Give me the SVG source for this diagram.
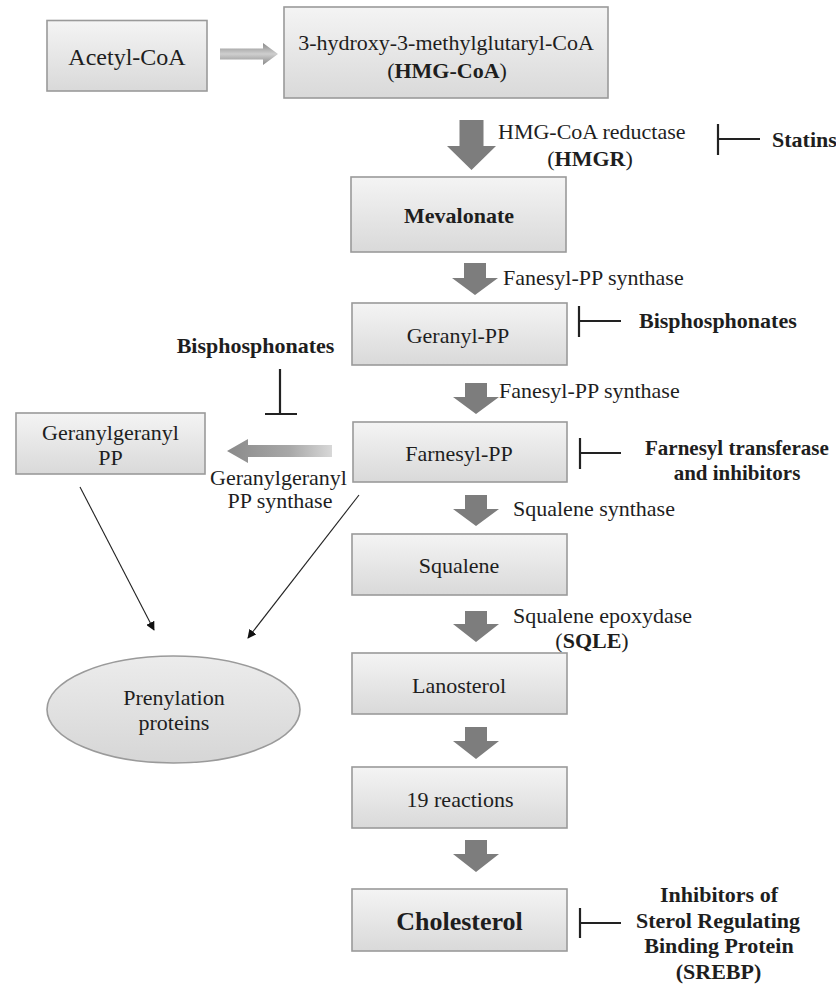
<svg xmlns="http://www.w3.org/2000/svg" width="836" height="986" viewBox="0 0 836 986">
<style>
text{font-family:"Liberation Serif","Times New Roman",serif;fill:#1e1e1e;font-size:22px}
.c{text-anchor:middle}
.b{font-weight:bold}
.box{fill:url(#boxg);stroke:#9a9a9a;stroke-width:1.6}
.blk{fill:#7d7d7d}
.thin{stroke:#222;stroke-width:1.1;fill:none;marker-end:url(#ah)}
.inh{stroke:#222;stroke-width:2.2;fill:none}
</style>
<defs>
<linearGradient id="boxg" x1="0" y1="0" x2="0" y2="1">
<stop offset="0" stop-color="#f4f4f4"/>
<stop offset="1" stop-color="#d9d9d9"/>
</linearGradient>
<linearGradient id="ellg" x1="0" y1="0" x2="0" y2="1">
<stop offset="0" stop-color="#ececec"/>
<stop offset="1" stop-color="#d6d6d6"/>
</linearGradient>
<linearGradient id="hg1" x1="0" y1="0" x2="0" y2="1">
<stop offset="0" stop-color="#8a8a8a"/>
<stop offset="0.5" stop-color="#cfcfcf"/>
<stop offset="1" stop-color="#8a8a8a"/>
</linearGradient>
<linearGradient id="hg2" x1="0" y1="0" x2="1" y2="0">
<stop offset="0" stop-color="#8a8a8a"/>
<stop offset="0.6" stop-color="#a8a8a8"/>
<stop offset="1" stop-color="#d8d8d8"/>
</linearGradient>
<marker id="ah" viewBox="0 0 10 10" refX="9" refY="5" markerWidth="9" markerHeight="9" markerUnits="userSpaceOnUse" orient="auto">
<path d="M0,0 L10,5 L0,10 z" fill="#111"/>
</marker>
</defs>

<g id="connectors">
<polygon fill="url(#hg1)" points="220,48.5 263,48.5 263,43 278,54 263,65 263,59.5 220,59.5"/>
<polygon class="blk" points="459.5,120 483.5,120 483.5,146 496,146 471.5,170 447,146 459.5,146"/>
<polygon class="blk" points="464,263 486,263 486,278 498,278 475,295 452,278 464,278"/>
<polygon class="blk" points="465,383 487,383 487,397 499,397 476,414 453,397 465,397"/>
<polygon class="blk" points="465,495 487,495 487,509 499,509 476,526 453,509 465,509"/>
<polygon class="blk" points="465,611 487,611 487,624 499,624 476,642 453,624 465,624"/>
<polygon class="blk" points="465,727 487,727 487,741 499,741 476,759 453,741 465,741"/>
<polygon class="blk" points="465,840 487,840 487,854 499,854 476,872 453,854 465,854"/>
<polygon fill="url(#hg2)" points="227,451 248,439 248,445 332,445 332,457 248,457 248,463"/>
<line class="thin" x1="80" y1="487" x2="154" y2="630"/>
<line class="thin" x1="359" y1="495" x2="248" y2="638"/>
<path class="inh" d="M718,124 V155 M718,139 H760"/>
<path class="inh" d="M579,306 V337 M579,321 H621"/>
<path class="inh" d="M280,369 V414 M265,414 H297"/>
<path class="inh" d="M580,438 V469 M580,453 H621"/>
<path class="inh" d="M580,908 V938 M580,923 H621"/>
</g>

<g id="acetyl-coa">
<rect class="box" x="47" y="20.5" width="160" height="70.5"/>
<text class="c" x="127" y="65" style="font-size:24px">Acetyl-CoA</text>
</g>
<g id="hmg-coa">
<rect class="box" x="284" y="7" width="324" height="91"/>
<text class="c" x="446" y="50">3-hydroxy-3-methylglutaryl-CoA</text>
<text class="c" x="447" y="78">(<tspan class="b">HMG-CoA</tspan>)</text>
</g>
<g id="hmgr-label">
<text x="498" y="139">HMG-CoA reductase</text>
<text class="c" x="590" y="166">(<tspan class="b">HMGR</tspan>)</text>
</g>
<g id="statins">
<text class="b" x="772" y="147">Statins</text>
</g>
<g id="mevalonate">
<rect class="box" x="351" y="177" width="215" height="75"/>
<text class="c b" x="459" y="223">Mevalonate</text>
</g>
<g id="fpps-label-1">
<text x="503" y="285">Fanesyl-PP synthase</text>
</g>
<g id="geranyl-pp">
<rect class="box" x="352" y="303" width="215" height="62"/>
<text class="c" x="458" y="343">Geranyl-PP</text>
</g>
<g id="bisphosphonates-right">
<text class="b" x="639" y="328">Bisphosphonates</text>
</g>
<g id="bisphosphonates-left">
<text class="c b" x="255.5" y="353">Bisphosphonates</text>
</g>
<g id="fpps-label-2">
<text x="499" y="398">Fanesyl-PP synthase</text>
</g>
<g id="geranylgeranyl-pp">
<rect class="box" x="16" y="413" width="189" height="61"/>
<text class="c" x="110.5" y="440">Geranylgeranyl</text>
<text class="c" x="110.5" y="465">PP</text>
</g>
<g id="ggpps-label">
<text class="c" x="278.5" y="485">Geranylgeranyl</text>
<text class="c" x="280" y="508">PP synthase</text>
</g>
<g id="farnesyl-pp">
<rect class="box" x="353" y="422" width="214" height="60"/>
<text class="c" x="459" y="461">Farnesyl-PP</text>
</g>
<g id="farnesyl-transferase">
<text class="b" x="645" y="455" style="font-size:21px">Farnesyl transferase</text>
<text class="c b" x="737" y="480" style="font-size:21px">and inhibitors</text>
</g>
<g id="squalene-synthase-label">
<text x="513" y="516">Squalene synthase</text>
</g>
<g id="squalene">
<rect class="box" x="352" y="534" width="215" height="61"/>
<text class="c" x="459" y="573">Squalene</text>
</g>
<g id="sqle-label">
<text x="513" y="623">Squalene epoxydase</text>
<text class="c" x="592" y="648">(<tspan class="b">SQLE</tspan>)</text>
</g>
<g id="prenylation-proteins">
<ellipse cx="173.5" cy="709.5" rx="126.5" ry="53.5" fill="url(#ellg)" stroke="#9a9a9a" stroke-width="1.6"/>
<text class="c" x="174" y="705">Prenylation</text>
<text class="c" x="174" y="730">proteins</text>
</g>
<g id="lanosterol">
<rect class="box" x="352" y="653" width="215" height="61"/>
<text class="c" x="459" y="693">Lanosterol</text>
</g>
<g id="nineteen-reactions">
<rect class="box" x="352" y="767" width="215" height="61"/>
<text class="c" x="460" y="807">19 reactions</text>
</g>
<g id="cholesterol">
<rect class="box" x="352" y="889" width="215" height="62"/>
<text class="c b" x="459.5" y="930" style="font-size:26px">Cholesterol</text>
</g>
<g id="srebp-inhibitors">
<text class="c b" x="719" y="902">Inhibitors of</text>
<text class="c b" x="718" y="928">Sterol Regulating</text>
<text class="c b" x="719" y="953">Binding Protein</text>
<text class="c b" x="718.5" y="979">(SREBP)</text>
</g>
</svg>
